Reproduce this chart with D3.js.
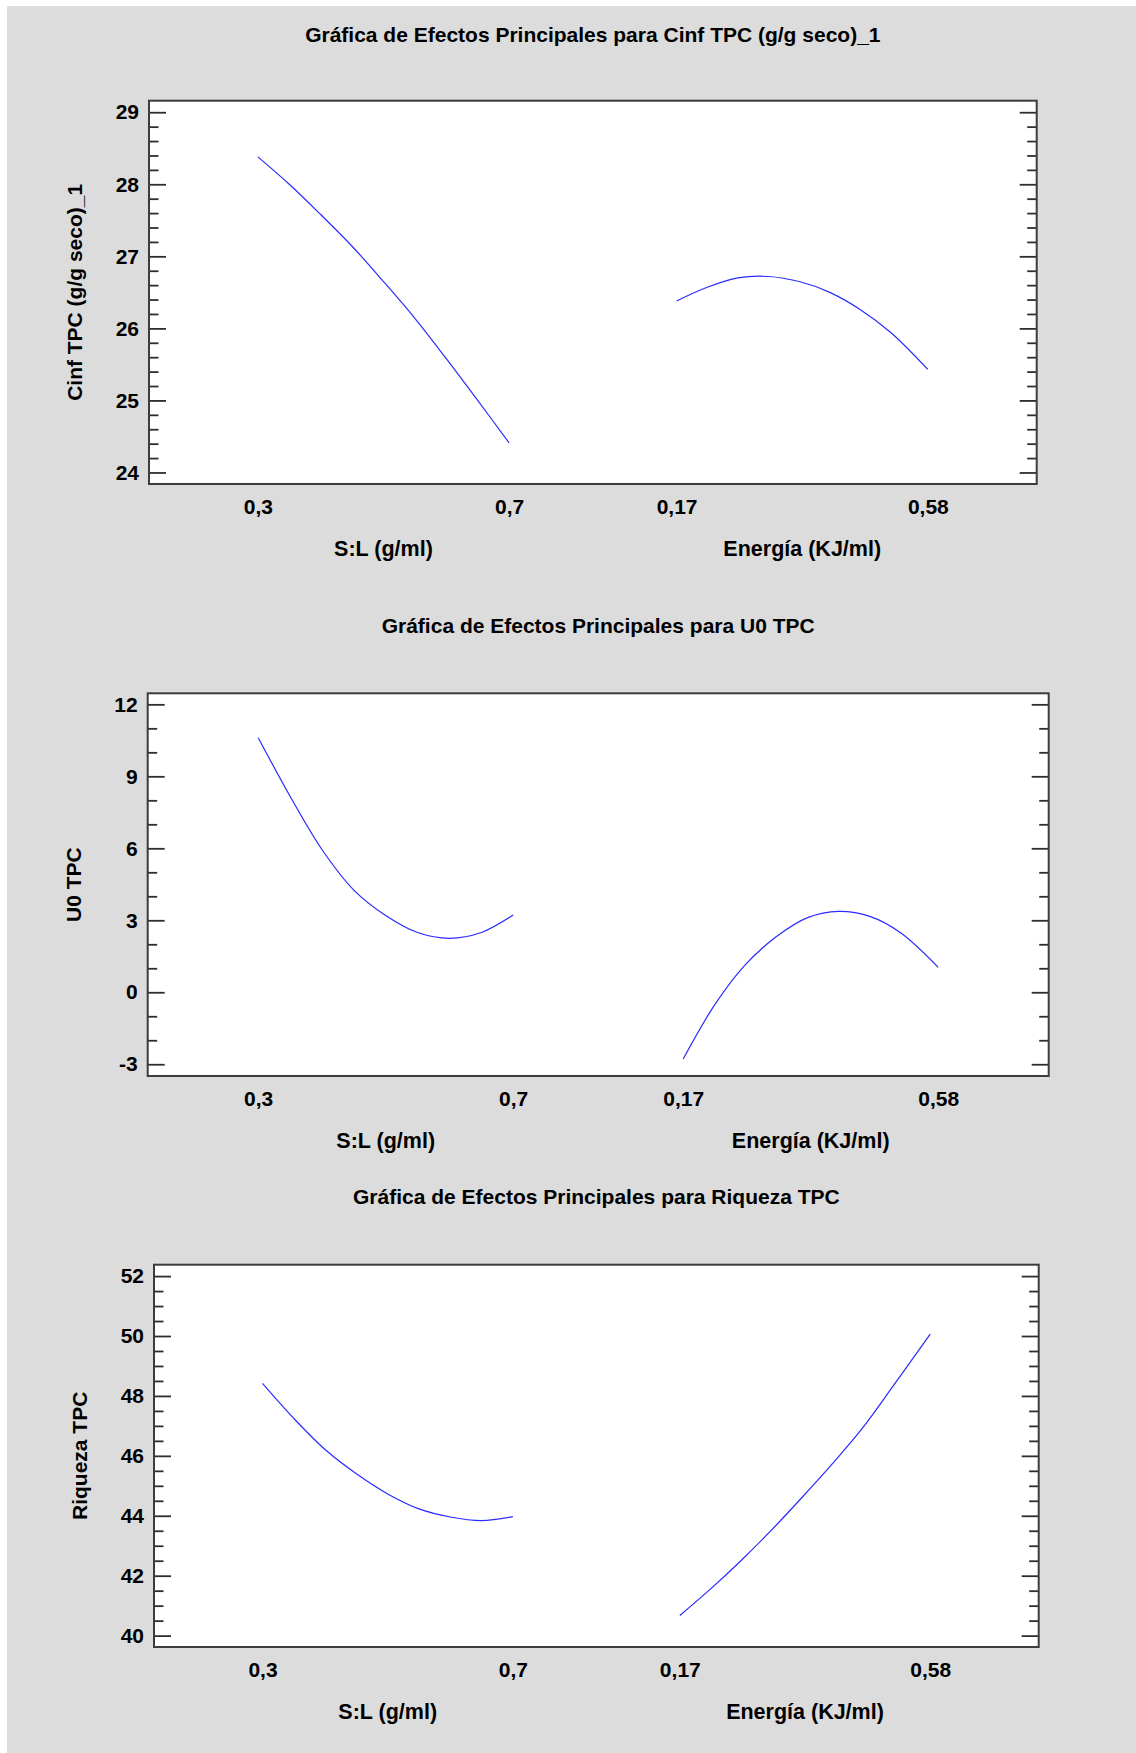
<!DOCTYPE html>
<html>
<head>
<meta charset="utf-8">
<script src="https://cdn.jsdelivr.net/npm/d3@7"></script>
<style>
  html, body { margin: 0; padding: 0; background: #fff; }
  svg { display: block; }
  text { font-family: "Liberation Sans", Arial, sans-serif; font-weight: bold; fill: #000; }
</style>
</head>
<body>
<svg id="chart" width="1136" height="1753"></svg>
<script>
// niveles de los factores (eje x de cada curva)
const slLevels = [0.30, 0.35, 0.40, 0.45, 0.50, 0.55, 0.60, 0.65, 0.70];
const energiaLevels = [0.17, 0.22, 0.27, 0.32, 0.37, 0.42, 0.47, 0.52, 0.58];

// etiquetas del eje x
const slTicks = [0.3, 0.7];
const energiaTicks = [0.17, 0.58];
const factorNames = ['S:L (g/ml)', 'Energía (KJ/ml)'];

// respuestas
const cinfSL = [28.38, 28.00, 27.58, 27.14, 26.65, 26.14, 25.58, 25.00, 24.41];
const cinfEnergia = [26.38, 26.57, 26.70, 26.72, 26.65, 26.50, 26.26, 25.94, 25.43];
const u0SL = [10.61, 8.17, 5.95, 4.26, 3.20, 2.49, 2.25, 2.49, 3.22];
const u0Energia = [-2.78, -0.55, 1.15, 2.32, 3.11, 3.37, 3.16, 2.47, 1.04];
const riqSL = [48.42, 47.25, 46.21, 45.40, 44.73, 44.23, 43.96, 43.84, 43.97];
const riqEnergia = [40.67, 41.55, 42.50, 43.52, 44.61, 45.74, 46.95, 48.35, 50.06];

const titles = [
  'Gráfica de Efectos Principales para Cinf TPC (g/g seco)_1',
  'Gráfica de Efectos Principales para U0 TPC',
  'Gráfica de Efectos Principales para Riqueza TPC'
];
const yLabels = ['Cinf TPC (g/g seco)_1', 'U0 TPC', 'Riqueza TPC'];
const yMajorTicks = [[24, 25, 26, 27, 28, 29], [-3, 0, 3, 6, 9, 12], [40, 42, 44, 46, 48, 50, 52]];
const yMinorStep = [0.2, 1, 0.5];
const yDomains = [[23.84, 29.16], [-3.49, 12.46], [39.62, 52.38]];

const slSeries = [cinfSL, u0SL, riqSL];
const energiaSeries = [cinfEnergia, u0Energia, riqEnergia];

// cajas de cada gráfico (px)
const boxes = [
  { l: 149, t: 100.7, r: 1036.7, b: 484, titleY: 35 },
  { l: 147.7, t: 693.3, r: 1048.7, b: 1076, titleY: 626 },
  { l: 154, t: 1264.7, r: 1038.7, b: 1647, titleY: 1197 }
];

const svg = d3.select('#chart');
const fmt = d => String(d).replace('.', ',');

svg.append('rect').attr('x', 7).attr('y', 6).attr('width', 1136 - 7).attr('height', 1753 - 6)
  .attr('fill', '#dcdcdc');

boxes.forEach((box, i) => {
  const { l, t, r, b } = box;
  const g = svg.append('g');

  g.append('rect').attr('x', l).attr('y', t).attr('width', r - l).attr('height', b - t)
    .attr('fill', '#fff');

  const y = d3.scaleLinear().domain(yDomains[i]).range([b, t]);
  // posiciones de los dos factores a lo largo del eje
  const pos = d3.scaleLinear().domain([0, 10.6]).range([l, r]);
  const xSL = d3.scaleLinear().domain(d3.extent(slLevels)).range([pos(1.3), pos(4.3)]);
  const xEn = d3.scaleLinear().domain(d3.extent(energiaLevels)).range([pos(6.3), pos(9.3)]);

  const [d0, d1] = yDomains[i];
  const step = yMinorStep[i];
  const minors = d3.range(Math.ceil(d0 / step) * step, d1, step)
    .map(v => +v.toFixed(3))
    .filter(v => !yMajorTicks[i].some(m => Math.abs(m - v) < 1e-6));

  const styleTicks = sel => {
    sel.select('.domain').remove();
    sel.selectAll('.tick line').attr('stroke', '#2e2e2e').attr('stroke-width', 1.8);
  };

  g.append('g').attr('transform', `translate(${l},0)`)
    .call(d3.axisLeft(y).tickValues(yMajorTicks[i]).tickSize(-17).tickPadding(10).tickFormat(fmt))
    .call(styleTicks)
    .call(s => s.selectAll('text').attr('font-size', 21).attr('font-family', null).attr('fill', '#000'));
  g.append('g').attr('transform', `translate(${l},0)`)
    .call(d3.axisLeft(y).tickValues(minors).tickSize(-9.5).tickFormat(''))
    .call(styleTicks);
  g.append('g').attr('transform', `translate(${r},0)`)
    .call(d3.axisRight(y).tickValues(yMajorTicks[i]).tickSize(-17).tickFormat(''))
    .call(styleTicks);
  g.append('g').attr('transform', `translate(${r},0)`)
    .call(d3.axisRight(y).tickValues(minors).tickSize(-9.5).tickFormat(''))
    .call(styleTicks);

  // ejes x sin marcas, sólo etiquetas
  [[xSL, slTicks], [xEn, energiaTicks]].forEach(([xs, ticks], k) => {
    g.append('g').attr('transform', `translate(0,${b})`)
      .call(d3.axisBottom(xs).tickValues(ticks).tickSize(0).tickPadding(15).tickFormat(fmt))
      .call(s => s.select('.domain').remove())
      .call(s => s.selectAll('text').attr('font-size', 21).attr('font-family', null).attr('fill', '#000'));
    const [a, c] = xs.range();
    g.append('text').attr('x', (a + c) / 2).attr('y', b + 64).attr('dy', '0.35em')
      .attr('text-anchor', 'middle').attr('font-size', 21.5).text(factorNames[k]);
  });

  const line = d3.line().curve(d3.curveCatmullRom);
  g.append('path')
    .attr('d', line(slLevels.map((v, j) => [xSL(v), y(slSeries[i][j])])))
    .attr('fill', 'none').attr('stroke', '#2b2bff').attr('stroke-width', 1.2);
  g.append('path')
    .attr('d', line(energiaLevels.map((v, j) => [xEn(v), y(energiaSeries[i][j])])))
    .attr('fill', 'none').attr('stroke', '#2b2bff').attr('stroke-width', 1.2);

  g.append('rect').attr('x', l).attr('y', t).attr('width', r - l).attr('height', b - t)
    .attr('fill', 'none').attr('stroke', '#3c3c3c').attr('stroke-width', 2);

  g.append('text').attr('x', (l + r) / 2).attr('y', box.titleY).attr('dy', '0.35em')
    .attr('text-anchor', 'middle').attr('font-size', 21).text(titles[i]);

  g.append('text')
    .attr('transform', `translate(${l - 74},${(t + b) / 2}) rotate(-90)`)
    .attr('dy', '0.35em').attr('text-anchor', 'middle').attr('font-size', 21)
    .text(yLabels[i]);
});
</script>
</body>
</html>
